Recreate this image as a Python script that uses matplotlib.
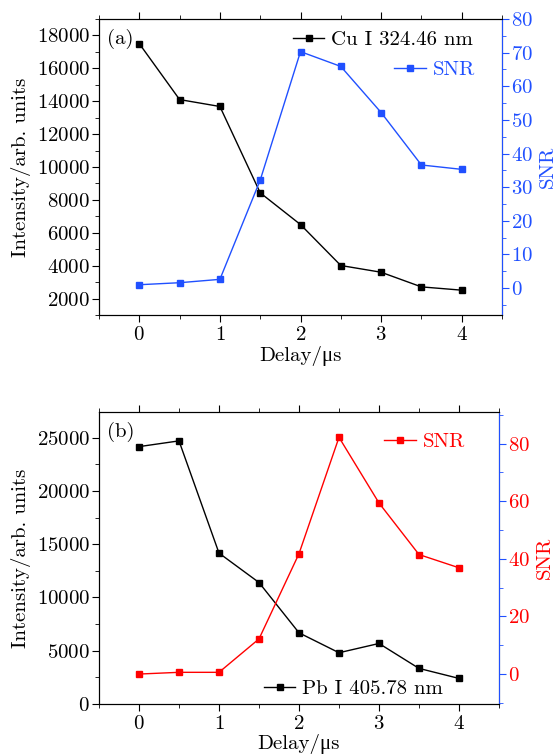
import numpy as np
import matplotlib
matplotlib.use("Agg")
import matplotlib.pyplot as plt
from matplotlib.ticker import MultipleLocator

plt.rcParams['font.family'] = ['cmr10', 'Liberation Serif', 'DejaVu Serif']
plt.rcParams['mathtext.fontset'] = 'cm'
plt.rcParams['axes.formatter.use_mathtext'] = True
plt.rcParams['font.size'] = 15

delay = [0, 0.5, 1, 1.5, 2, 2.5, 3, 3.5, 4]
cu_intensity = [17500, 14100, 13680, 8430, 6500, 4010, 3600, 2710, 2510]
cu_snr = [1.0, 1.6, 2.6, 32.1, 70.3, 65.9, 52.2, 36.6, 35.3]
pb_intensity = [24150, 24690, 14160, 11400, 6680, 4810, 5680, 3340, 2400]
pb_snr = [0.0, 0.6, 0.6, 12.2, 41.8, 82.2, 59.4, 41.5, 36.9]

blue = '#2050ff'
red = '#ff0000'

fig = plt.figure(figsize=(5.58, 7.55), dpi=100)
W, H = 558, 755

leg_kw = dict(loc='center right', frameon=False, handlelength=1.5,
              handletextpad=0.33, borderaxespad=0, borderpad=0,
              markerscale=0.8)
ms = 4.6


def setup_x(ax):
    ax.set_xlim(-0.5, 4.5)
    ax.xaxis.set_major_locator(MultipleLocator(1))
    ax.xaxis.set_minor_locator(MultipleLocator(0.5))
    ax.tick_params(axis='x', which='both', direction='out', top=True)
    ax.tick_params(axis='x', which='major', length=5, pad=3)
    ax.tick_params(axis='x', which='minor', length=3)
    ax.set_xlabel('Delay/μs', labelpad=1)


def style_y(ax, color, label_color, side):
    ax.tick_params(axis='y', which='major', length=5, direction='out', pad=1.5,
                   color=color, labelcolor=label_color)
    ax.tick_params(axis='y', which='minor', length=3, direction='out', color=color)
    ax.spines[side].set_color(color)


# panel (a)
ax1 = fig.add_axes([99 / W, 1 - 315 / H, (502 - 99) / W, (315 - 19) / H])
ax1.plot(delay, cu_intensity, '-s', color='black', lw=1, ms=ms,
         label='Cu I 324.46 nm')
ax1.set_ylim(1000, 19000)
ax1.yaxis.set_major_locator(MultipleLocator(2000))
ax1.yaxis.set_minor_locator(MultipleLocator(1000))
setup_x(ax1)
style_y(ax1, 'black', 'black', 'left')
ax1.set_ylabel('Intensity/arb. units', labelpad=4)
ax1.text(0.02, 0.965, '(a)', transform=ax1.transAxes, ha='left', va='top')

ax1r = ax1.twinx()
ax1r.plot(delay, cu_snr, '-s', color=blue, lw=1, ms=ms, label='SNR')
ax1r.set_ylim(-8, 80)
ax1r.yaxis.set_major_locator(MultipleLocator(10))
ax1r.yaxis.set_minor_locator(MultipleLocator(5))
style_y(ax1r, blue, blue, 'right')
ax1r.set_ylabel('SNR', color=blue, labelpad=4)

ax1.legend(bbox_to_anchor=(0.928, 0.929), **leg_kw)
leg2 = ax1r.legend(bbox_to_anchor=(0.933, 0.828), **leg_kw)
for t in leg2.get_texts():
    t.set_color(blue)

# panel (b)
ax2 = fig.add_axes([99 / W, 1 - 704 / H, (499 - 99) / W, (704 - 412) / H])
ax2.plot(delay, pb_intensity, '-s', color='black', lw=1, ms=ms,
         label='Pb I 405.78 nm')
ax2.set_ylim(0, 27400)
ax2.yaxis.set_major_locator(MultipleLocator(5000))
ax2.yaxis.set_minor_locator(MultipleLocator(2500))
setup_x(ax2)
style_y(ax2, 'black', 'black', 'left')
ax2.set_ylabel('Intensity/arb. units', labelpad=4)
ax2.text(0.02, 0.965, '(b)', transform=ax2.transAxes, ha='left', va='top')

ax2r = ax2.twinx()
ax2r.plot(delay, pb_snr, '-s', color=red, lw=1, ms=ms, label='SNR')
ax2r.set_ylim(-10.4, 91)
ax2r.yaxis.set_major_locator(MultipleLocator(20))
ax2r.yaxis.set_minor_locator(MultipleLocator(10))
style_y(ax2r, blue, red, 'right')
ax2r.set_ylabel('SNR', color=red, labelpad=4)

ax2.legend(bbox_to_anchor=(0.86, 0.051), **leg_kw)
leg4 = ax2r.legend(bbox_to_anchor=(0.915, 0.898), **leg_kw)
for t in leg4.get_texts():
    t.set_color(red)

fig.savefig('out.png', dpi=100)
